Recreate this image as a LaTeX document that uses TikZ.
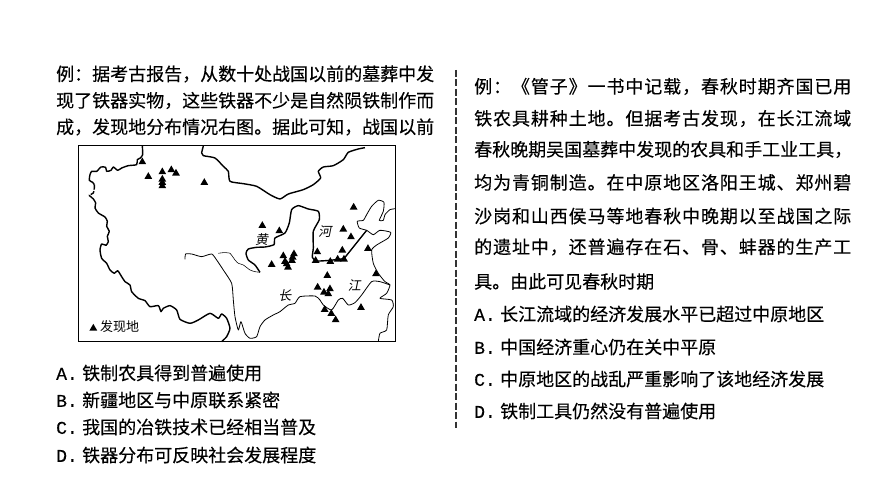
\documentclass[tikz,border=0pt]{standalone}
\usepackage{fontspec}
\setmainfont{Liberation Mono}
\newfontfamily\latinmono[FakeBold=0.4]{Liberation Mono}
\newfontfamily\cjk[FakeBold=0.25]{Noto Sans CJK SC}
\newfontfamily\cjkwide[FakeBold=0.25,LetterSpace=5]{Noto Sans CJK SC}
\newfontfamily\cjkmap{Noto Sans CJK SC}
\newfontfamily\cjkit[FakeSlant=0.2]{Noto Sans CJK SC}
\usetikzlibrary{shapes.geometric}
\newcommand{\opt}[2]{\makebox[26pt][l]{\latinmono\fontsize{18}{18}\selectfont #1.}#2}
\tikzset{
  leftline/.style={anchor=west,inner sep=0pt,font=\cjk\fontsize{18}{18}\selectfont},
  wideline/.style={anchor=west,inner sep=0pt,font=\cjkwide\fontsize{18}{18}\selectfont},
  optline/.style={anchor=west,inner sep=0pt,font=\cjk\fontsize{18}{18}\selectfont},
  maplabel/.style={inner sep=0pt,font=\cjkit\fontsize{13}{13}\selectfont},
  legendlabel/.style={anchor=west,inner sep=0pt,font=\cjkmap\fontsize{13}{13}\selectfont},
  site/.style={regular polygon,regular polygon sides=3,fill=black,draw=none,minimum size=9pt,inner sep=0pt},
  border/.style={draw=black,line width=1.4pt,line join=round},
  thickriver/.style={draw=black,line width=1.4pt,line join=round},
  midriver/.style={draw=black,line width=0.8pt,line join=round},
  thinriver/.style={draw=black,line width=0.55pt,line join=round},
  mapframe/.style={draw=black,line width=1pt},
  divider/.style={draw=black!80,line width=1.8pt,dash pattern=on 7pt off 2.5pt}
}
\begin{document}
\begin{tikzpicture}[x=1pt,y=-1pt]
\useasboundingbox[fill=white] (0,0) rectangle (870,489);
% left text
\node[leftline] (l1) at (56,74) {例：据考古报告，从数十处战国以前的墓葬中发};
\node[leftline] (l2) at (56,100.5) {现了铁器实物，这些铁器不少是自然陨铁制作而};
\node[leftline] (l3) at (56,127) {成，发现地分布情况右图。据此可知，战国以前};
\node[optline] (la) at (56,373) {\opt{A}{铁制农具得到普遍使用}};
\node[optline] (lb) at (56,400) {\opt{B}{新疆地区与中原联系紧密}};
\node[optline] (lc) at (56,427) {\opt{C}{我国的冶铁技术已经相当普及}};
\node[optline] (ld) at (56,455) {\opt{D}{铁器分布可反映社会发展程度}};
% divider
\coordinate (dtop) at (456,70);
\coordinate (dbot) at (456,428);
\draw[divider] (dtop) -- (dbot);
% right text
\node[wideline] (r1) at (474,86.5) {例：《管子》一书中记载，春秋时期齐国已用};
\node[wideline] (r2) at (474,118.5) {铁农具耕种土地。但据考古发现，在长江流域};
\node[leftline] (r3) at (474,149.5) {春秋晚期吴国墓葬中发现的农具和手工业工具，};
\node[wideline] (r4) at (474,182.5) {均为青铜制造。在中原地区洛阳王城、郑州碧};
\node[wideline] (r5) at (474,216) {沙岗和山西侯马等地春秋中晚期以至战国之际};
\node[wideline] (r6) at (474,247) {的遗址中，还普遍存在石、骨、蚌器的生产工};
\node[leftline] (r7) at (474,281.5) {具。由此可见春秋时期};
\node[optline] (ra) at (474,314) {\opt{A}{长江流域的经济发展水平已超过中原地区}};
\node[optline] (rb) at (474,347) {\opt{B}{中国经济重心仍在关中平原}};
\node[optline] (rc) at (474,379) {\opt{C}{中原地区的战乱严重影响了该地经济发展}};
\node[optline] (rd) at (474,411) {\opt{D}{铁制工具仍然没有普遍使用}};
% map
\begin{scope}[shift={(70,140)},x=0.3333pt,y=-0.3333pt]
\draw[border] plot[smooth,tension=0.35] coordinates {(217,18)(218,44)(211,54)(202,59)(200,74)(175,77)(155,84)(143,91)(130,81)(123,91)(110,94)(107,82)(93,81)(80,94)(65,94)(60,104)(58,121)(68,127)(73,134)};
\draw[border,dash pattern=on 5pt off 1.5pt] plot[smooth,tension=0.35] coordinates {(73,134)(73,144)(70,159)(57,166)};
\draw[border] plot[smooth,tension=0.35] coordinates {(57,166)(70,177)(77,189)(75,204)(85,219)(105,231)(112,244)(110,259)(118,274)(112,289)(115,305)(108,316)(95,312)(90,330)(95,355)(110,370)(120,390)(133,400)(143,392)(155,410)(165,425)(180,435)(185,455)(205,475)(225,482)(240,500)(265,497)(273,515)(280,505)(300,497)(320,510)(330,538)(360,550)(385,540)(420,520)(445,535)(455,522)(470,535)(480,565)(470,590)(455,605)};
\draw[border] plot[smooth,tension=0.35] coordinates {(400,18)(395,39)(400,47)(435,54)(460,79)(475,94)(480,124)(520,131)(560,139)(600,164)(630,177)(655,162)(700,149)(730,134)(752,114)(745,94)(760,81)(790,77)(820,59)(835,37)(865,27)(885,23)};
\draw[thickriver] plot[smooth,tension=0.35] coordinates {(570,397)(555,375)(535,360)(528,340)(535,327)(560,322)(585,321)(612,314)(615,294)(645,279)(658,249)(665,209)(685,197)(715,207)(745,214)(748,239)(730,274)(730,324)(727,352)(740,363)(780,361)(822,356)} -- (890,271);
\draw[midriver] plot[smooth,tension=0.35] coordinates {(345,358)(347,342)(365,342)(395,350)(425,342)(440,360)(460,390)(485,430)(490,480)(495,530)(505,570)(513,545)(525,580)(540,595)(560,590)(570,560)(585,540)(610,525)(630,515)(655,495)(675,490)(690,470)(735,468)(750,480)(760,495)(785,510)(805,480)(818,475)(835,495)(855,488)(875,465)(905,425)(930,425)(960,435)};
\draw[thinriver] plot[smooth,tension=0.35] coordinates {(445,340)(460,338)(480,340)(495,360)(505,370)(520,375)(540,390)(555,395)(570,397)};
\draw[midriver] plot[smooth,tension=0.35] coordinates {(977,206)(960,209)(945,224)(940,241)(928,241)(940,214)(942,187)(925,181)(905,199)(890,224)(880,241)(862,244)(868,264)(890,271)(910,284)(930,271)(962,277)(955,294)(930,309)(920,315)(905,330)(910,370)(925,400)(945,425)(960,435)(950,460)(930,475)(965,480)(970,500)(955,525)(950,570)(930,580)(925,605)};
\draw[mapframe] (25,18) rectangle (977,606);
\foreach \p [count=\i] in {(217,66),(235,110),(277,96),(304,90),(318,100),(277,118),(277,128),(277,138),(403,128),(851,202),(577,257),(628,273),(820,268),(843,291),(817,331),(894,326),(742,336),(737,362),(781,365),(803,358),(822,358),(640,348),(645,365),(605,374),(650,372),(654,382),(672,342),(668,352),(666,362),(918,402),(772,407),(743,442),(780,447),(762,457),(775,462),(764,509),(784,521),(797,540),(873,503),(70,565)}
  \node[site] (s\i) at \p {};
\node[legendlabel] (legend) at (90,560) {发现地};
\node[maplabel] (huang) at (575,298) {黄};
\node[maplabel] (he) at (765,276) {河};
\node[maplabel] (chang) at (645,467) {长};
\node[maplabel] (jiang) at (853,438) {江};
\end{scope}
\end{tikzpicture}
\end{document}
